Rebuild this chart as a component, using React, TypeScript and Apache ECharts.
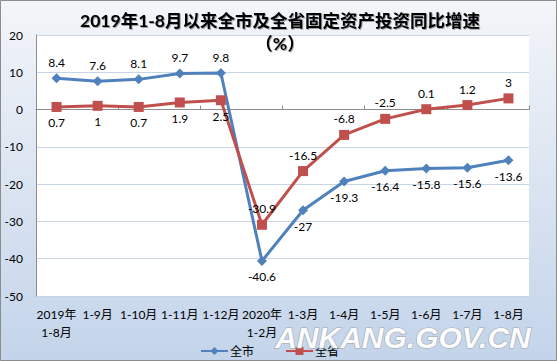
import React, { useEffect, useRef } from "react";
import * as echarts from "echarts";

const categories = ["2019年\n1-8月", "1-9月", "1-10月", "1-11月", "1-12月", "2020年\n1-2月", "1-3月", "1-4月", "1-5月", "1-6月", "1-7月", "1-8月"];
const cityValues = [8.4, 7.6, 8.1, 9.7, 9.8, -40.6, -27, -19.3, -16.4, -15.8, -15.6, -13.6];
const provinceValues = [0.7, 1, 0.7, 1.9, 2.5, -30.9, -16.5, -6.8, -2.5, 0.1, 1.2, 3];
const cityLabelPos = ["top", "top", "top", "top", "top", "bottom", "bottom", "bottom", "bottom", "bottom", "bottom", "bottom"];
const provinceLabelPos = ["bottom", "bottom", "bottom", "bottom", "bottom", "top", "top", "top", "top", "top", "top", "top"];

const FONT = 'Lato, "Noto Sans CJK SC", sans-serif';

export default function App() {
  const ref = useRef<HTMLDivElement>(null);
  useEffect(() => {
    if (!ref.current) return;
    const chart = echarts.init(ref.current, undefined, { renderer: "svg" });
    const labelStyle = { color: "#000", fontSize: 12, fontFamily: FONT };
    chart.setOption({
      animation: false,
      backgroundColor: {
        type: "linear", x: 0, y: 0, x2: 0, y2: 1,
        colorStops: [
          { offset: 0, color: "#f3f5f9" },
          { offset: 1, color: "#c3d4ea" },
        ],
      },
      textStyle: { fontFamily: FONT },
      title: {
        text: "2019年1-8月以来全市及全省固定资产投资同比增速\n（%）",
        left: 275,
        top: 4,
        textAlign: "center",
        textStyle: {
          fontSize: 17.5,
          fontWeight: "bold",
          color: "#000",
          lineHeight: 23,
          fontFamily: FONT,
          textShadowColor: "rgba(0,0,0,0.35)",
          textShadowOffsetX: 1,
          textShadowOffsetY: 1,
          textShadowBlur: 1,
        },
      },
      legend: {
        left: 195,
        top: 340,
        itemWidth: 27,
        itemHeight: 10,
        itemGap: 31,
        textStyle: { fontSize: 12, color: "#000", fontFamily: FONT, padding: [0, 0, 0, -3] },
        data: ["全市", "全省"],
      },
      grid: {
        left: 36,
        right: 28,
        top: 35,
        bottom: 65,
        show: true,
        backgroundColor: "#ffffff",
        borderWidth: 0,
      },
      xAxis: [
        {
          type: "category",
          data: categories,
          position: "bottom",
          axisLine: { show: false, onZero: false },
          axisTick: { show: false },
          axisLabel: { color: "#000", fontSize: 12, margin: 9, lineHeight: 18.5, interval: 0, fontFamily: FONT },
          splitLine: { show: false },
        },
        {
          type: "category",
          data: categories,
          position: "bottom",
          axisLine: { show: true, onZero: true, lineStyle: { color: "#8c8c8c", width: 1 } },
          axisTick: { show: true, length: 4, inside: true, lineStyle: { color: "#8c8c8c" } },
          axisLabel: { show: false },
          splitLine: { show: false },
        },
      ],
      yAxis: {
        type: "value",
        min: -50,
        max: 20,
        interval: 10,
        axisLine: { show: true, lineStyle: { color: "#8c8c8c", width: 1 } },
        axisTick: { show: false },
        axisLabel: { color: "#000", fontSize: 12, margin: 13, fontFamily: FONT },
        splitLine: { show: true, lineStyle: { color: "#c8d5e6", width: 1 } },
      },
      graphic: [
        {
          type: "rect",
          shape: { x: 0.5, y: 0.5, width: 556, height: 360 },
          style: { fill: "none", stroke: "#8c8c8c", lineWidth: 1 },
          z: 100,
          silent: true,
        },
        {
          type: "text",
          x: 403,
          y: 337,
          z: 100,
          silent: true,
          style: {
            text: "ANKANG.GOV.CN",
            fontSize: 30,
            lineHeight: 22,
            fontWeight: 900,
            fontStyle: "italic",
            fontFamily: '"Liberation Sans", Arial, sans-serif',
            fill: "#ffffff",
            stroke: "#a0a4a8",
            lineWidth: 1.2,
            align: "center",
            verticalAlign: "middle",
            opacity: 0.95,
          },
        },
      ],
      series: [
        {
          name: "全市",
          type: "line",
          xAxisIndex: 0,
          data: cityValues.map((v, i) => ({ value: v, label: { position: cityLabelPos[i] } })),
          symbol: "diamond",
          symbolSize: 10,
          lineStyle: { color: "#4f81bd", width: 3 },
          itemStyle: { color: "#4f81bd" },
          label: { show: true, ...labelStyle, distance: 5 },
          z: 2,
        },
        {
          name: "全省",
          type: "line",
          xAxisIndex: 0,
          data: provinceValues.map((v, i) => ({ value: v, label: { position: provinceLabelPos[i] } })),
          symbol: "rect",
          symbolSize: 10,
          lineStyle: { color: "#c0504d", width: 3 },
          itemStyle: { color: "#c0504d" },
          label: { show: true, ...labelStyle, distance: 5 },
          z: 3,
        },
      ],
    });
    return () => chart.dispose();
  }, []);
  return (
    <div
      ref={ref}
      style={{ position: "fixed", left: 0, top: 0, width: 557, height: 361 }}
    />
  );
}
